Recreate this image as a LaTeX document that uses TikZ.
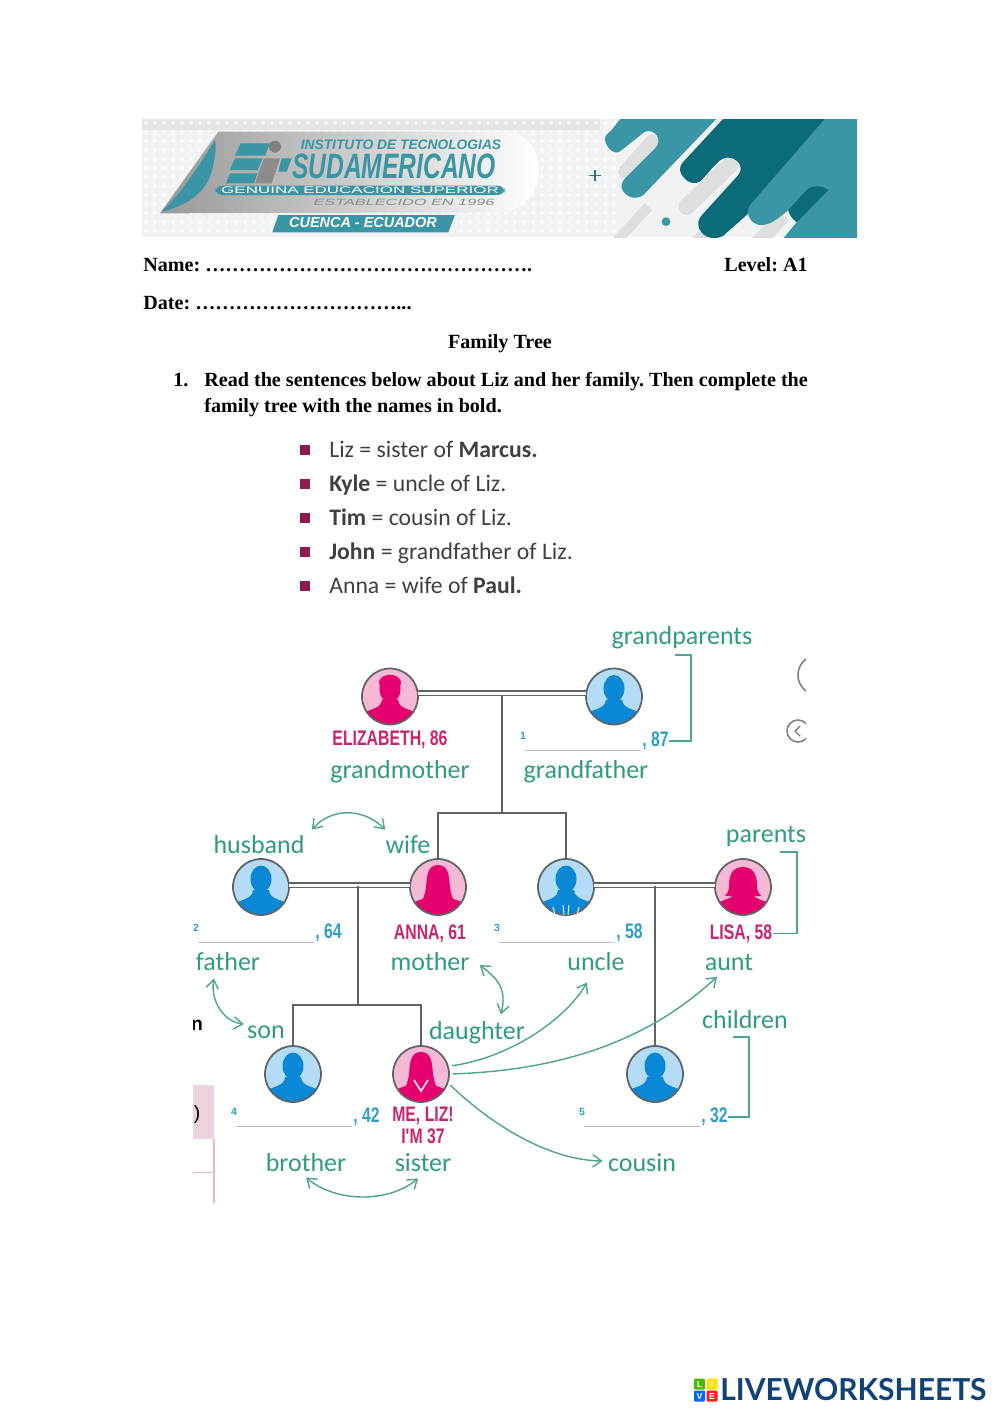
\documentclass[tikz,border=0pt]{standalone}
\usepackage{fontspec}
\setmainfont{Liberation Serif}
\newfontfamily\sheetsans{Carlito}
\newfontfamily\tagsans{Liberation Sans}
\newfontfamily\logosans{Lato}
\usetikzlibrary{arrows.meta,calc,positioning}
\definecolor{tealdark}{HTML}{0B6B78}
\definecolor{tealmid}{HTML}{3A95A4}
\definecolor{stripgray}{HTML}{DDDFDE}
\definecolor{bannerbg}{HTML}{F0F2F3}
\definecolor{treegray}{HTML}{5F6468}
\definecolor{labelgreen}{HTML}{2F9C7C}
\definecolor{arrowgreen}{HTML}{4CA58C}
\definecolor{namepink}{HTML}{C9256F}
\definecolor{agecyan}{HTML}{2E9FCB}
\definecolor{womanbg}{HTML}{F5B9D5}
\definecolor{womanfg}{HTML}{E5006E}
\definecolor{manbg}{HTML}{B5DCF6}
\definecolor{manfg}{HTML}{0A88D6}
\definecolor{bulletred}{HTML}{8A1C50}
\definecolor{navylogo}{HTML}{0F4377}
\definecolor{cutpink}{HTML}{EDD3DF}
\definecolor{cutline}{HTML}{E6B5C8}
\newcommand{\slim}[1]{\scalebox{.75}[1]{#1}}
\tikzset{
  personnode/.style={circle,minimum size=1.12cm,inner sep=0,fill=#1},
  couple/.style={draw=treegray,line width=0.7pt,double=white,double distance=1.7pt},
  treeline/.style={draw=treegray,line width=0.9pt},
  bracket/.style={draw=arrowgreen,line width=0.8pt},
  linkarrow/.style={draw=arrowgreen,line width=0.8pt,{Straight Barb[length=5pt,width=7pt]}-{Straight Barb[length=5pt,width=7pt]}},
  toarrow/.style={draw=arrowgreen,line width=0.8pt,-{Straight Barb[length=5pt,width=7pt]}},
  word/.style={text=labelgreen,inner sep=0,font=\sheetsans\fontsize{14.8}{16}\selectfont},
  namelabel/.style={text=namepink,inner sep=0,yshift=-0.8pt,font=\tagsans\bfseries\fontsize{12}{12}\selectfont},
  agelabel/.style={text=agecyan,inner sep=0,anchor=west,font=\tagsans\bfseries\fontsize{12}{12}\selectfont},
  headline/.style={inner sep=0,anchor=base west,font=\frenchspacing\bfseries\fontsize{11.45}{13}\selectfont},
  bulletline/.style={inner sep=0,anchor=base west,text=black!75,font=\sheetsans\fontsize{13.5}{15}\selectfont},
  bulletmark/.style={fill=bulletred,minimum size=0.2cm,inner sep=0},
  tile/.style={minimum size=0.22cm,inner sep=0,rounded corners=0.6pt,text=white,font=\tagsans\bfseries\fontsize{5}{5}\selectfont},
}
% one round portrait: name, position, light colour, strong colour, head
\newcommand{\person}[5]{
  \node[personnode=#3] (#1) at (#2) {};
  \begin{scope}[shift={(#2)}]
    \clip (0,0) circle (28);
    #5
    \fill[#4] (-30,30) -- (-30,18) .. controls (-20,12) and (-9,13) .. (-8,3) -- (8,3) .. controls (9,13) and (20,12) .. (30,18) -- (30,30) -- cycle;
  \end{scope}
  \draw[treegray,line width=1pt] (#2) circle (28);
}
\newcommand{\manhead}[1]{\fill[#1] (0,-8) ellipse (10.5 and 13.5);}
\newcommand{\curlyhead}{\fill[womanfg] (0,-7) ellipse (10.5 and 13); \fill[womanfg] (-11,-15) .. controls (-8,-24) and (8,-24) .. (11,-15) -- (10,-8) -- (-10,-8) -- cycle;}
\newcommand{\longhair}{\fill[womanfg] (0,-22) .. controls (-11,-22) and (-11,-10) .. (-12,0) .. controls (-13,8) and (-15,12) .. (-17,17) -- (17,17) .. controls (15,12) and (13,8) .. (12,0) .. controls (11,-10) and (11,-22) .. (0,-22) -- cycle;}
\newcommand{\bobhair}{\fill[womanfg] (0,-20) .. controls (-13,-20) and (-14,-8) .. (-14,0) .. controls (-14,4) and (-16,7) .. (-18,9) -- (18,9) .. controls (16,7) and (14,4) .. (14,0) .. controls (14,-8) and (13,-20) .. (0,-20) -- cycle;}
% number, blank line and age under a portrait
\newcommand{\answer}[5]{
  \node[text=agecyan,inner sep=0,font=\tagsans\bfseries\fontsize{6}{6}\selectfont] (#1num) at (#3-2,#4-14) {#2};
  \draw[black!25,line width=0.4pt] (#3,#4) -- (#3+116,#4);
  \node[agelabel] (#1) at (#3+117,#4-9) {\slim{, #5}};
}
\begin{document}
\begin{tikzpicture}[x=0.02cm,y=-0.02cm]
  \useasboundingbox (0,0) rectangle (1000,1414);
  \fill[white] (0,0) rectangle (1000,1414);

  % banner
  \begin{scope}
    \clip (142,119) rectangle (857,237);
    \fill[bannerbg] (142,119) rectangle (857,237);
    \fill[black!10] (142,119) rectangle (600,130);
    \foreach \px in {146,155,...,620}
      \foreach \py in {123,132,...,235}
        \fill[white,opacity=0.65] (\px,\py) circle (2);
    \begin{scope}[shift={(580,115)},x=0.00667cm,y=-0.00667cm]
      \draw[stripgray,line width=0.27cm,line cap=round] (135,170) -- (215,80);
      \draw[stripgray,line width=0.33cm,line cap=round] (320,275) -- (450,150);
      \draw[stripgray,line width=0.2cm] (100,390) -- (205,275);
      \draw[stripgray,line width=0.2cm] (335,390) -- (390,340);
      \draw[stripgray,line width=0.3cm] (520,400) -- (610,300);
      \fill[tealmid] (130,0) -- (420,0) -- (190,240) .. controls (165,258) and (135,245) .. (125,220) .. controls (122,205) and (130,195) .. (140,185) -- (225,100) .. controls (250,75) and (225,40) .. (195,50) -- (125,105) .. controls (105,125) and (80,100) .. (75,75) .. controls (74,60) and (85,55) .. (95,45) -- cycle;
      \fill[tealdark] (440,0) -- (760,0) -- (500,300) -- (430,362) .. controls (400,380) and (360,365) .. (355,330) .. controls (352,315) and (365,300) .. (375,290) -- (475,180) .. controls (495,155) and (470,125) .. (440,128) .. controls (425,130) and (415,140) .. (405,150) -- (365,195) .. controls (345,215) and (315,200) .. (303,175) .. controls (295,155) and (305,145) .. (315,135) -- cycle;
      \fill[tealmid] (745,0) -- (510,270) .. controls (490,300) and (520,335) .. (550,330) .. controls (570,328) and (590,315) .. (625,285) -- (650,322) -- (610,370) -- (870,370) -- (870,0) -- cycle;
      \fill[tealdark] (625,285) -- (680,225) .. controls (695,210) and (725,210) .. (745,225) -- (650,322) .. controls (635,310) and (625,295) .. (625,285) -- cycle;
      \fill[tealmid] (258,320) circle (13);
      \draw[tealmid!80!black,line width=0.7pt] (28,182) -- (62,182) (45,165) -- (45,198);
    \end{scope}
    \begin{scope}[shift={(140,115)},x=0.00667cm,y=-0.00667cm]
      \shade[left color=black!40,middle color=black!8,right color=white] (235,50) -- (1100,50) .. controls (1180,60) and (1200,130) .. (1195,180) .. controls (1190,250) and (1130,290) .. (1090,292) -- (60,295) -- cycle;
      \fill[tealmid] (225,75) .. controls (190,130) and (130,230) .. (65,290) .. controls (130,275) and (195,240) .. (215,170) .. controls (225,130) and (230,100) .. (225,75) -- cycle;
      \fill[tealmid] (302,85) -- (390,85) -- (375,122) -- (285,122) -- cycle;
      \fill[tealmid] (285,130) -- (368,130) -- (353,165) -- (270,165) -- cycle;
      \fill[tealmid] (270,175) -- (352,175) -- (342,205) -- (258,205) -- cycle;
      \fill[black!45] (372,130) -- (420,130) -- (395,205) -- (345,205) -- cycle;
      \fill[black!50] (405,95) circle (18);
      \fill[tealmid] (425,130) -- (455,130) -- (440,170) -- (415,170) -- cycle;
      \fill[tealmid,rounded corners=1.5mm] (225,212) rectangle (1095,240);
      \fill[tealmid] (415,300) -- (945,300) -- (925,352) -- (397,352) -- cycle;
    \end{scope}
  \end{scope}
  \node[inner sep=0,text=tealmid] (institute) at (401,145) {\resizebox{114pt}{!}{\tagsans\bfseries\itshape INSTITUTO DE TECNOLOGIAS}};
  \node[inner sep=0,text=tealmid] (sudamericano) at (394,166) {\resizebox{116pt}{14pt}{\tagsans\bfseries\itshape SUDAMERICANO}};
  \node[inner sep=0,text=white] (genuina) at (360,190.5) {\resizebox{158pt}{3.8pt}{\tagsans GENUINA EDUCACION SUPERIOR}};
  \node[inner sep=0,text=black!45] (established) at (404,202) {\resizebox{103pt}{3.6pt}{\tagsans\itshape ESTABLECIDO EN 1996}};
  \node[inner sep=0,text=white] (cuenca) at (363,223) {\resizebox{84pt}{!}{\tagsans\bfseries\itshape CUENCA - ECUADOR}};

  % heading of the sheet
  \node[headline] (name) at (143,271) {Name: \foreach \dotn in {1,...,16}{…}.};
  \node[headline] (level) at (724,271) {Level: A1};
  \node[headline] (date) at (143,309) {Date: \foreach \dotn in {1,...,10}{…}...};
  \node[headline,anchor=base] (title) at (500,348) {Family Tree};
  \node[headline] (number) at (173,386) {1.};
  \node[headline] (read) at (204,386) {Read the sentences below about Liz and her family. Then complete the};
  \node[headline] (read2) at (204,412) {family tree with the names in bold.};

  % sentences
  \foreach \py/\ptext in {449/{Liz = sister of \textbf{Marcus.}},483/{\textbf{Kyle} = uncle of Liz.},517/{\textbf{Tim} = cousin of Liz.},551/{\textbf{John} = grandfather of Liz.},585/{Anna = wife of \textbf{Paul.}}} {
    \node[bulletmark] at (304.5,\py+1) {};
    \node[bulletline] at (329,\py+8) {\ptext};
  }

  % cut off at the sides of the tree
  \begin{scope}
    \clip (193,620) rectangle (806,1205);
    \draw[black!50,line width=0.9pt] (818,675) circle (20);
    \draw[black!50,line width=0.9pt] (798,731) circle (11);
    \draw[black!50,line width=0.8pt] (800,726) -- (795,731) -- (800,736);
    \fill[cutpink] (193,1085) rectangle (214,1139);
    \draw[cutline,line width=0.7pt] (193,1172.5) -- (214,1172.5) (214,1139) -- (214,1203);
    \node[inner sep=0,font=\tagsans\bfseries\fontsize{11}{11}\selectfont] (cutn) at (197,1025) {n};
    \node[inner sep=0,font=\tagsans\fontsize{11}{11}\selectfont] (cutb) at (197,1114) {)};
  \end{scope}

  % portraits
  \person{elizabeth}{390,696.5}{womanbg}{womanfg}{\curlyhead}
  \person{grandpa}{614,696.5}{manbg}{manfg}{\manhead{manfg}}
  \person{dad}{261,887}{manbg}{manfg}{\manhead{manfg}}
  \person{anna}{438,887}{womanbg}{womanfg}{\longhair}
  \person{uncle}{566,887}{manbg}{manfg}{\manhead{manfg}}
  \person{lisa}{743,887}{womanbg}{womanfg}{\bobhair}
  \person{marcus}{293,1074}{manbg}{manfg}{\manhead{manfg}}
  \person{liz}{421,1074}{womanbg}{womanfg}{\longhair}
  \person{cousin}{655,1074}{manbg}{manfg}{\manhead{manfg}}
  \draw[white,line width=0.5pt] (563,905) -- (564,915) (569,905) -- (568,915) (553,907) -- (555,915) (579,907) -- (577,915);
  \draw[womanbg!50!white,line width=1pt] (414,1080) -- (421,1091) -- (428,1080);

  % family lines
  \draw[couple] (elizabeth.7) -- (grandpa.173);
  \draw[couple] (dad.4) -- (anna.176);
  \draw[couple] (uncle.4) -- (lisa.176);
  \coordinate (grandkids) at (502,695);
  \coordinate (forkone) at (502,813);
  \coordinate (dadkids) at (358,886);
  \coordinate (forktwo) at (358,1005);
  \coordinate (unclekids) at (655,886);
  \draw[treeline] (grandkids) -- (forkone);
  \draw[treeline] (anna.north) |- (forkone) -| (uncle.north);
  \draw[treeline] (dadkids) -- (forktwo);
  \draw[treeline] (marcus.north) |- (forktwo) -| (liz.north);
  \draw[treeline] (unclekids) -- (cousin.north);

  % names and ages
  \node[namelabel] (elizabethname) at (390,738) {\slim{ELIZABETH, 86}};
  \node[namelabel] (annaname) at (430,932) {\slim{ANNA, 61}};
  \node[namelabel] (lisaname) at (741,932) {\slim{LISA, 58}};
  \node[namelabel] (lizname) at (423,1114) {\slim{ME, LIZ!}};
  \node[namelabel] (lizage) at (423,1135) {\slim{I'M 37}};
  \answer{ageone}{1}{525}{750}{87}
  \answer{agetwo}{2}{198}{942}{64}
  \answer{agethree}{3}{499}{942}{58}
  \answer{agefour}{4}{236}{1126}{42}
  \answer{agefive}{5}{584}{1126}{32}

  % words
  \node[word] (grandparents) at (682,638) {grandparents};
  \node[word] (grandmother) at (400,772) {grandmother};
  \node[word] (grandfather) at (586,772) {grandfather};
  \node[word] (husband) at (259,845) {husband};
  \node[word] (wife) at (408,845) {wife};
  \node[word] (parents) at (766,836) {parents};
  \node[word] (father) at (228,962) {father};
  \node[word] (mother) at (430,962) {mother};
  \node[word] (uncleword) at (596,962) {uncle};
  \node[word] (aunt) at (729,962) {aunt};
  \node[word] (son) at (266,1032) {son};
  \node[word] (daughter) at (477,1033) {daughter};
  \node[word] (children) at (745,1020) {children};
  \node[word] (brother) at (306,1163) {brother};
  \node[word] (sister) at (423,1163) {sister};
  \node[word] (cousinword) at (642,1163) {cousin};

  % brackets
  \coordinate (grandtop) at (675,655);
  \coordinate (parenttop) at (780,852);
  \coordinate (childtop) at (733,1037);
  \draw[bracket] (grandtop) -- ++(16,0) |- (ageone.east);
  \draw[bracket] (parenttop) -- ++(17,0) |- (lisaname.east);
  \draw[bracket] (childtop) -- ++(16,0) |- (agefive.east);

  % arrows
  \draw[linkarrow] ([shift={(7,-6)}]husband.north east) .. controls +(20,-22) and +(-22,-22) .. ([shift={(0,-6)}]wife.north west);
  \draw[linkarrow] ([shift={(-14,7)}]father.south) .. controls +(-4,22) and +(-20,-2) .. ([shift={(-3,-8)}]son.west);
  \draw[linkarrow] ([shift={(10,3)}]mother.east) .. controls +(18,14) and +(6,-26) .. ([shift={(24,-7)}]daughter.north);
  \draw[toarrow,shorten <=2pt] (liz.16) .. controls +(60,-8) and +(-22,38) .. ([shift={(-9,11)}]uncleword.south);
  \draw[toarrow,shorten <=2pt] (liz.0) .. controls +(123,-4) and +(-62,58) .. ([shift={(-12,6)}]aunt.south);
  \draw[toarrow,shorten <=2pt] (liz.-18) .. controls +(38,37) and +(-58,-1) .. ([shift={(-5,-2)}]cousinword.west);
  \draw[linkarrow] ([shift={(0,5)}]brother.south) .. controls +(30,25) and +(-30,25) .. ([shift={(-5,6)}]sister.south);

  % site logo
  \node[tile,fill=green!60!black!70!yellow] (tilel) at (699.5,1384) {L};
  \node[tile,fill=yellow!85!orange] (tilei) at (712,1384) {I};
  \node[tile,fill=blue!60!cyan] (tilev) at (699.5,1396) {V};
  \node[tile,fill=red!85!pink] (tilee) at (712,1396) {E};
  \node[inner sep=0,anchor=west,text=navylogo] (sitelogo) at (720,1390) {\resizebox{151.5pt}{12.6pt}{\logosans\bfseries LIVEWORKSHEETS}};
\end{tikzpicture}
\end{document}
